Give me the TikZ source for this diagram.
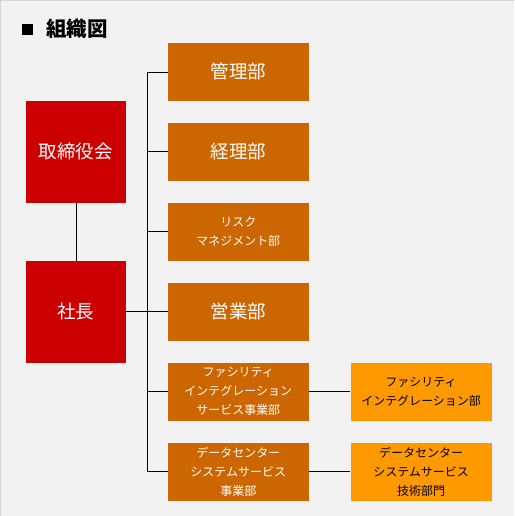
\documentclass[tikz,border=0pt]{standalone}
\usepackage{fontspec}
\setmainfont{Noto Sans CJK JP}
\usepackage{xcolor}
\usetikzlibrary{positioning, calc}

\definecolor{bgcol}{HTML}{F2F2F2}
\definecolor{framecol}{HTML}{D4D4D4}
\definecolor{boardcol}{HTML}{CC0000}
\definecolor{deptcol}{HTML}{CC6600}
\definecolor{subcol}{HTML}{FF9900}

\tikzset{
  board/.style={fill=boardcol, text=white, minimum width=100pt, minimum height=102pt,
    inner sep=0pt, font=\fontsize{18.5}{22}\selectfont},
  dept/.style={fill=deptcol, text=white, minimum width=141pt, minimum height=58pt,
    inner sep=0pt, align=center},
  subdept/.style={dept, fill=subcol, text=black},
  bigtxt/.style={font=\fontsize{18.5}{22}\selectfont},
  smalltxt/.style={font=\fontsize{12}{19}\selectfont},
  link/.style={draw=black, line width=0.75pt}
}

\begin{document}
\begin{tikzpicture}[x=1pt, y=-1pt]
        % background and frame
        \fill[bgcol] (0,0) rectangle (514,516);
        \draw[framecol, line width=1pt] (0.5,516) -- (0.5,0.5) -- (514,0.5);
        \useasboundingbox (0,0) rectangle (514,516);

        % title
        \fill[black] (22.5,24.5) rectangle (33.5,35.5);
        \node[anchor=west, inner sep=0pt, font=\fontsize{20.5}{24}\selectfont\bfseries] (title) at (46,29) {組織図};

        % board and president
        \node[board] (board) at (76,152) {取締役会};
        \node[board] (ceo) at (76,312) {社長};

        % departments
        \node[dept, bigtxt] (admin) at (238.5,72) {管理部};
        \node[dept, bigtxt] (acct) at (238.5,152) {経理部};
        \node[dept, smalltxt] (risk) at (238.5,232) {リスク\\マネジメント部};
        \node[dept, bigtxt] (sales) at (238.5,312) {営業部};
        \node[dept, smalltxt] (facil) at (238.5,392) {ファシリティ\\インテグレーション\\サービス事業部};
        \node[dept, smalltxt] (dcsys) at (238.5,472) {データセンター\\システムサービス\\事業部};

        % sub departments
        \node[subdept, smalltxt] (facilsub) at (421.5,392) {ファシリティ\\インテグレーション部};
        \node[subdept, smalltxt] (dcsub) at (421.5,472) {データセンター\\システムサービス\\技術部門};

        % connectors
        \coordinate (trunk) at (148,0);
        \draw[link] (board) -- (ceo);
        \draw[link] (admin.west -| trunk) -- (dcsys.west -| trunk);
        \foreach \d in {admin, acct, risk, sales, facil, dcsys}
          \draw[link] (\d.west) -- (\d.west -| trunk);
        \draw[link] (ceo.east) -- (ceo.east -| trunk);
        \draw[link] (facil) -- (facilsub);
        \draw[link] (dcsys) -- (dcsub);
      \end{tikzpicture}
\end{document}
